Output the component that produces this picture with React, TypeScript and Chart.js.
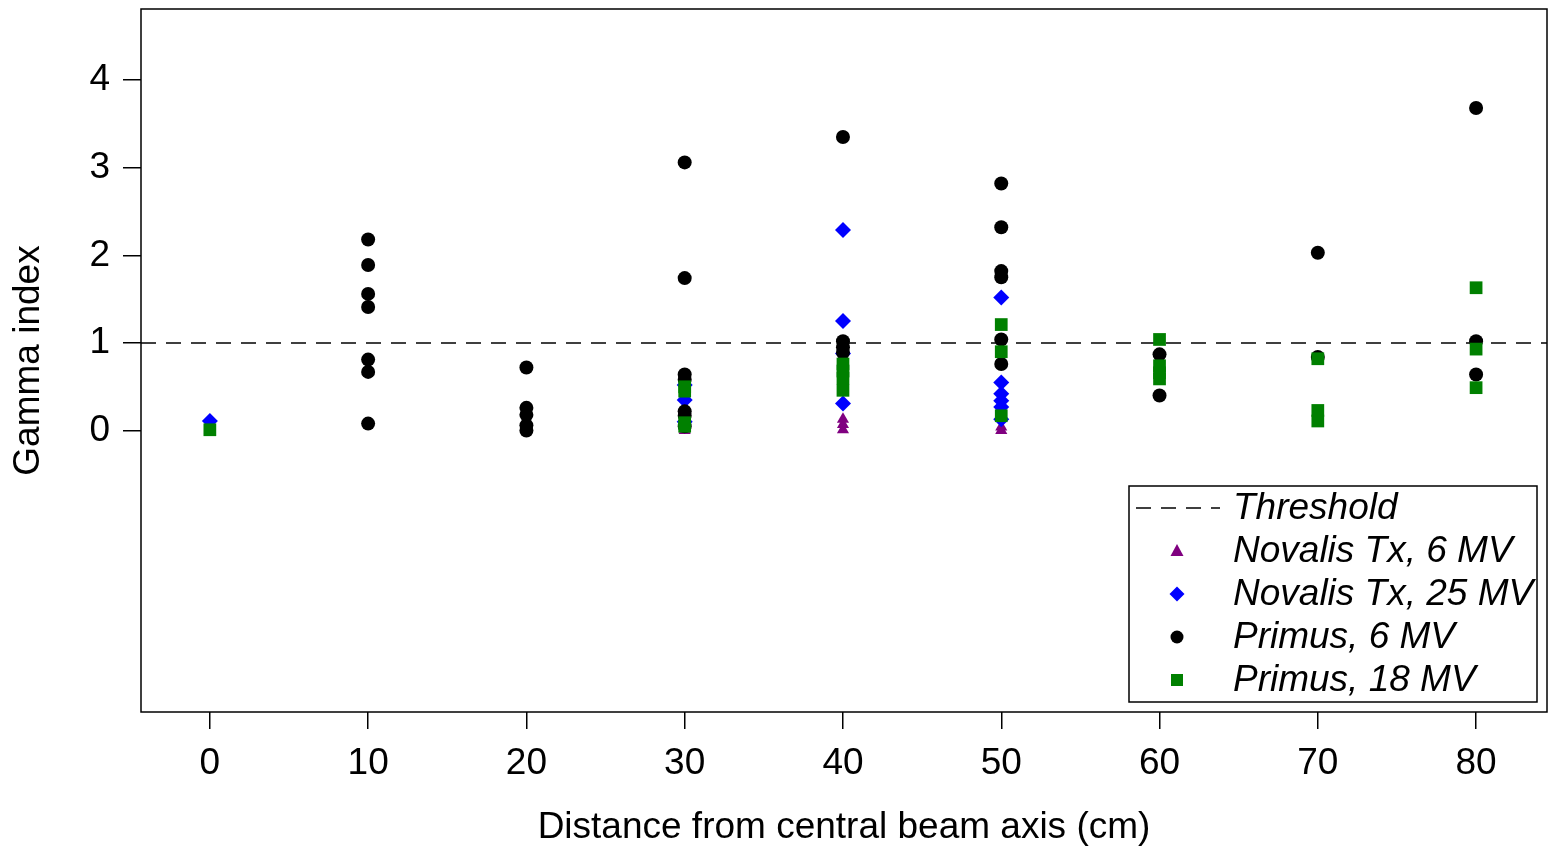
import React, { useEffect, useRef } from "react";
import { Chart, registerables } from "chart.js";

Chart.register(...registerables);

// Axis ticks
const xTicks = [0, 10, 20, 30, 40, 50, 60, 70, 80];
const yTicks = [0, 1, 2, 3, 4];
const xRange = [-4.35, 84.48];
const yRange = [-3.21, 4.81];
const threshold = 1;

// Novalis Tx, 6 MV
const novalis6X = [0, 30, 30, 40, 40, 40, 50, 50];
const novalis6Y = [0.0, 0.0, 0.02, 0.13, 0.07, 0.01, 0.04, 0.0];

// Novalis Tx, 25 MV
const novalis25X = [0, 30, 30, 30, 40, 40, 40, 40, 50, 50, 50, 50, 50, 50];
const novalis25Y = [0.11, 0.35, 0.52, 0.1, 2.29, 1.25, 0.88, 0.31, 1.52, 0.55, 0.42, 0.34, 0.27, 0.13];

// Primus, 6 MV
const primus6X = [
  10, 10, 10, 10, 10, 10, 10,
  20, 20, 20, 20, 20,
  30, 30, 30, 30, 30, 30, 30,
  40, 40, 40, 40,
  50, 50, 50, 50, 50, 50,
  60, 60,
  70, 70,
  80, 80, 80,
];
const primus6Y = [
  2.18, 1.89, 1.56, 1.41, 0.81, 0.67, 0.08,
  0.72, 0.26, 0.18, 0.06, 0.0,
  3.06, 1.74, 0.64, 0.58, 0.22, 0.17, 0.05,
  3.35, 1.02, 0.95, 0.89,
  2.82, 2.32, 1.82, 1.75, 1.04, 0.76,
  0.87, 0.4,
  2.03, 0.84,
  3.68, 1.02, 0.64,
];

// Primus, 18 MV
const primus18X = [0, 30, 30, 30, 30, 40, 40, 40, 40, 50, 50, 50, 60, 60, 60, 60, 70, 70, 70, 80, 80, 80];
const primus18Y = [0.01, 0.5, 0.45, 0.09, 0.05, 0.76, 0.68, 0.6, 0.46, 1.21, 0.9, 0.17, 1.04, 0.74, 0.66, 0.59, 0.82, 0.23, 0.11, 1.63, 0.93, 0.49];

const labels = ["Threshold", "Novalis Tx, 6 MV", "Novalis Tx, 25 MV", "Primus, 6 MV", "Primus, 18 MV"];

const FONT = "'Liberation Sans', Arial, sans-serif";

const toPoints = (xs: number[], ys: number[]) => xs.map((x, i) => ({ x, y: ys[i] }));

function drawMarker(ctx: CanvasRenderingContext2D, style: string, x: number, y: number, color: string) {
  ctx.save();
  ctx.fillStyle = color;
  ctx.beginPath();
  if (style === "triangle") {
    ctx.moveTo(x, y - 7);
    ctx.lineTo(x + 6.5, y + 5);
    ctx.lineTo(x - 6.5, y + 5);
    ctx.closePath();
  } else if (style === "rectRot") {
    ctx.moveTo(x, y - 7.5);
    ctx.lineTo(x + 7.5, y);
    ctx.lineTo(x, y + 7.5);
    ctx.lineTo(x - 7.5, y);
    ctx.closePath();
  } else if (style === "circle") {
    ctx.arc(x, y, 6.5, 0, Math.PI * 2);
  } else {
    ctx.rect(x - 6, y - 6, 12, 12);
  }
  ctx.fill();
  ctx.restore();
}

const framePlugin = {
  id: "frame",
  afterDraw(chart: any) {
    const { ctx, chartArea } = chart;
    ctx.save();
    ctx.strokeStyle = "#000";
    ctx.lineWidth = 1.5;
    ctx.strokeRect(chartArea.left, chartArea.top, chartArea.right - chartArea.left, chartArea.bottom - chartArea.top);

    // legend box in the lower right corner of the plot
    const bw = 408;
    const bh = 216;
    const bx = chartArea.right - 10 - bw;
    const by = chartArea.bottom - 10 - bh;
    ctx.fillStyle = "#fff";
    ctx.fillRect(bx, by, bw, bh);
    ctx.strokeRect(bx, by, bw, bh);

    const rowGap = 43;
    const firstY = by + 22;
    const markerX = bx + 48;
    const textX = bx + 104;

    ctx.font = `italic 37px ${FONT}`;
    ctx.textBaseline = "middle";
    ctx.textAlign = "left";

    chart.data.datasets.forEach((ds: any, i: number) => {
      const y = firstY + i * rowGap;
      if (ds.type === "line") {
        ctx.save();
        ctx.strokeStyle = "#000";
        ctx.lineWidth = 1.5;
        ctx.setLineDash([15, 10]);
        ctx.beginPath();
        ctx.moveTo(bx + 7, y);
        ctx.lineTo(bx + 91, y);
        ctx.stroke();
        ctx.restore();
      } else {
        drawMarker(ctx, ds.pointStyle, markerX, y, ds.backgroundColor);
      }
      ctx.fillStyle = "#000";
      ctx.fillText(ds.label, textX, y + 1);
    });
    ctx.restore();
  },
};

export default function App() {
  const canvasRef = useRef<HTMLCanvasElement | null>(null);

  useEffect(() => {
    if (!canvasRef.current) return;
    const tickFont = { family: FONT, size: 37 };
    const chart = new Chart(canvasRef.current, {
      type: "scatter",
      data: {
        datasets: [
          {
            type: "line",
            label: labels[0],
            data: [
              { x: xRange[0], y: threshold },
              { x: xRange[1], y: threshold },
            ],
            borderColor: "#000",
            borderWidth: 1.5,
            borderDash: [15, 10],
            pointRadius: 0,
            order: 5,
          },
          {
            label: labels[1],
            data: toPoints(novalis6X, novalis6Y),
            pointStyle: "triangle",
            backgroundColor: "#800080",
            borderWidth: 0,
            pointRadius: 7,
            order: 4,
          },
          {
            label: labels[2],
            data: toPoints(novalis25X, novalis25Y),
            pointStyle: "rectRot",
            backgroundColor: "#0000FF",
            borderWidth: 0,
            pointRadius: 8,
            order: 3,
          },
          {
            label: labels[3],
            data: toPoints(primus6X, primus6Y),
            pointStyle: "circle",
            backgroundColor: "#000000",
            borderWidth: 0,
            pointRadius: 7,
            order: 2,
          },
          {
            label: labels[4],
            data: toPoints(primus18X, primus18Y),
            pointStyle: "rect",
            backgroundColor: "#008000",
            borderWidth: 0,
            pointRadius: 9,
            order: 1,
          },
        ] as any,
      },
      options: {
        animation: false,
        responsive: false,
        layout: { padding: { top: 8, right: 3, left: 0, bottom: 0 } },
        plugins: {
          legend: { display: false },
          tooltip: { enabled: false },
        },
        scales: {
          x: {
            type: "linear",
            min: xRange[0],
            max: xRange[1],
            afterBuildTicks: (scale: any) => {
              scale.ticks = xTicks.map((v) => ({ value: v }));
            },
            afterFit: (scale: any) => {
              scale.height = 138;
              scale.paddingLeft = 0;
              scale.paddingRight = 0;
            },
            grid: { drawOnChartArea: false, drawTicks: true, tickLength: 17, color: "#000", lineWidth: 1.5 },
            border: { display: false },
            ticks: { color: "#000", font: tickFont, padding: 13, maxRotation: 0, autoSkip: false },
            title: {
              display: true,
              text: "Distance from central beam axis (cm)",
              color: "#000",
              font: tickFont,
              padding: { top: 0, bottom: 0 },
            },
          },
          y: {
            type: "linear",
            min: yRange[0],
            max: yRange[1],
            afterBuildTicks: (scale: any) => {
              scale.ticks = yTicks.map((v) => ({ value: v }));
            },
            afterFit: (scale: any) => {
              scale.width = 141;
              scale.paddingTop = 0;
              scale.paddingBottom = 0;
            },
            grid: { drawOnChartArea: false, drawTicks: true, tickLength: 18, color: "#000", lineWidth: 1.5 },
            border: { display: false },
            ticks: { color: "#000", font: tickFont, padding: 13, autoSkip: false },
            title: {
              display: true,
              text: "Gamma index",
              color: "#000",
              font: tickFont,
              padding: { top: 7, bottom: 0 },
            },
          },
        },
      },
      plugins: [framePlugin],
    });
    return () => chart.destroy();
  }, []);

  return (
    <div style={{ position: "fixed", left: 0, top: 0, width: 1556, height: 850, background: "#fff" }}>
      <canvas ref={canvasRef} width={1556} height={850} style={{ width: 1556, height: 850, display: "block" }} />
    </div>
  );
}
